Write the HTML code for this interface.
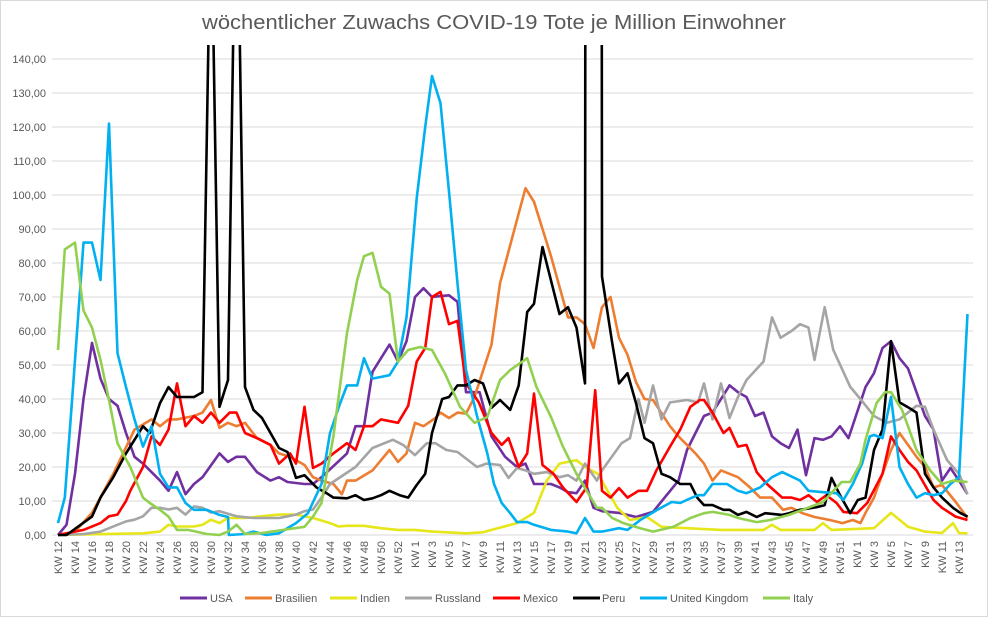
<!DOCTYPE html>
<html><head><meta charset="utf-8"><style>
html,body{margin:0;padding:0;background:#fff}
svg{display:block;font-family:"Liberation Sans",sans-serif}
</style></head><body>
<svg id="c" width="988" height="617" viewBox="0 0 988 617" xmlns="http://www.w3.org/2000/svg">
<rect x="0.5" y="0.5" width="987" height="616" fill="#fff" stroke="#d9d9d9"/>
<text x="494" y="29" text-anchor="middle" font-size="20" fill="#595959" textLength="584" lengthAdjust="spacingAndGlyphs">wöchentlicher Zuwachs COVID-19 Tote je Million Einwohner</text>
<defs><clipPath id="pc"><rect x="52" y="45" width="925" height="495"/></clipPath></defs>
<g id="grid"></g>
<g id="series" clip-path="url(#pc)" fill="none" stroke-width="2.6" stroke-linejoin="round"></g>
<g id="xl" font-size="11" fill="#595959"></g>
<g font-size="11" fill="#595959">
<line x1="180" y1="598" x2="207" y2="598" stroke="#7030A0" stroke-width="3"/><text x="210" y="602">USA</text>
<line x1="245" y1="598" x2="272" y2="598" stroke="#ED7D31" stroke-width="3"/><text x="275" y="602">Brasilien</text>
<line x1="330" y1="598" x2="357" y2="598" stroke="#E6E61A" stroke-width="3"/><text x="360" y="602">Indien</text>
<line x1="405" y1="598" x2="432" y2="598" stroke="#A5A5A5" stroke-width="3"/><text x="435" y="602">Russland</text>
<line x1="493" y1="598" x2="520" y2="598" stroke="#FF0000" stroke-width="3"/><text x="523" y="602">Mexico</text>
<line x1="573" y1="598" x2="600" y2="598" stroke="#000" stroke-width="3"/><text x="602" y="602">Peru</text>
<line x1="640" y1="598" x2="667" y2="598" stroke="#00B0F0" stroke-width="3"/><text x="670" y="602">United Kingdom</text>
<line x1="763" y1="598" x2="790" y2="598" stroke="#92D050" stroke-width="3"/><text x="793" y="602">Italy</text>
</g>
</svg>
<script>
var NS="http://www.w3.org/2000/svg";
function X(i){return 58+8.5*i}
function Y(v){return 535-3.4*v}
function el(t,a,p,txt){var e=document.createElementNS(NS,t);for(var k in a)e.setAttribute(k,a[k]);if(txt!==undefined)e.textContent=txt;p.appendChild(e);return e}
var g=document.getElementById("grid");
for(var k=0;k<=14;k++){var y=Y(k*10);
 el("line",{x1:52,x2:973,y1:y,y2:y,stroke:"#d9d9d9","stroke-width":1},g);
 el("text",{x:46,y:y+4,"text-anchor":"end","font-size":11,fill:"#595959"},g,(k*10)+",00");}
var xl=document.getElementById("xl");
function lab(i,t){var x=X(i)+4;el("text",{x:x,y:541,"text-anchor":"end",transform:"rotate(-90 "+x+" 541)"},xl,t)}
for(var w=12;w<=52;w+=2)lab(w-12,"KW "+w);
for(var w=1;w<=51;w+=2)lab(42+w-1,"KW "+w);
for(var w=1;w<=13;w+=2)lab(94+w-1,"KW "+w);
var S=[
["#7030A0",[[0,0],[1,3],[2,18],[3,40],[4,56.5],[5,46],[6,40],[7,38],[8,30],[9,23],[10,21],[12,16],[13,13],[14,18.5],[15,12],[16,15],[17,17],[19,24],[20,21.5],[21,23],[22,23],[23.4,18.5],[25,16],[26,17],[27,15.6],[29,15],[30,15],[31,17],[34,24],[35,32],[36,32],[37,48],[39,56],[40,51],[41,57],[42,70],[43,72.6],[44,70],[46,70.5],[47,68.6],[48,42],[49.6,42],[51,29],[52.6,23],[54,20],[55,21],[56,15],[58,15],[59,14],[60,12.6],[61,12.3],[62,16],[63,8],[64,7],[66,6.5],[68,5.3],[70,6.8],[73,16],[74,25],[76,35],[77,36],[79,44],[80,42],[81,40.6],[82,35],[83,36],[84,29],[85,27],[86,25.6],[87,31],[88,17.6],[89,28.5],[90,28],[91,29],[92,32],[93,28.5],[95,43.5],[96,47.6],[97,55],[98,57],[99,52],[100,49],[101,42],[102,35],[103,31],[104,16],[105,19.7],[106,16],[107,12]]],
["#ED7D31",[[0,0],[2,1],[4,6.5],[6.5,18],[9,31],[11,34],[12,32],[13,34],[14,34],[16,35],[17,36],[18,39.7],[19,31.5],[20,33],[21,32],[22,33],[23.4,28.5],[25,26.5],[26,24],[27.3,23],[29,20.6],[30,17],[31,16],[32.4,15],[33.4,12],[34,16],[35,16],[37,19],[39,25],[40,21.5],[41,24],[42,33],[43,32],[44.4,34.4],[45,36],[46,34.4],[47,36],[48,35.7],[49,40.6],[51,56],[52,74],[53.6,89],[55,102],[56,98],[58,82],[60,64],[61,64],[62,62],[63,55],[64,67],[65,70],[66,58],[67,53],[68,45],[69,40],[70,39.7],[72,32],[73,29],[75,24],[76,21],[77,16],[78,19],[80,17],[81.4,14],[82.6,11],[84,11],[85.3,7.4],[86.3,8],[87.6,6.4],[89,5.3],[90.8,4.4],[92.3,3.5],[93.5,4.4],[94.4,3.5],[95,6.5],[96,11],[97,18],[98,25],[99,30],[100,26.5],[101,23],[102,20],[103,14],[104,14.7],[105.7,9.4],[107,5]]],
["#E6E61A",[[0,0],[10,0.5],[12,1],[13,3],[14,2.5],[16,2.5],[17,3],[18,4.5],[19,3.5],[20,5],[22,5],[26,6],[28,6],[30,5],[32,3.5],[33,2.5],[34,2.7],[36,2.7],[38,2],[40,1.5],[42,1.5],[44,1],[48,0.5],[50,0.8],[51,1.5],[54,3.5],[56,6.5],[57.5,16],[59,21],[61,22],[62,20],[63.5,18],[65.8,8],[67.3,4.4],[69.3,5.3],[71,2.4],[74,2],[78,1.5],[83,1.5],[84,3],[85,1.5],[89,1.5],[90,3.5],[91,1.5],[96,2],[98,6.5],[100,2.4],[102,1],[104,0.6],[105.3,3.5],[106,0.6],[107,0.5]]],
["#A5A5A5",[[0,0],[3,0.3],[5,1],[7,3],[8,4],[9,4.5],[10,5.5],[11,8],[12,8],[13,7.5],[14,8],[15,6],[16,8.4],[17,8],[18,6.6],[19,7],[21,5.5],[23,5],[26,5],[27,5.5],[28,6],[29,7],[30,7.5],[31,11],[32,15],[35,20],[37,25.6],[39.4,28],[40.6,26.5],[42,23.5],[43.4,27],[44.4,27],[45.7,25],[47,24.4],[49.3,20],[50.4,21],[52,20.6],[53,16.8],[54,19.7],[55,19],[56,18],[57.5,18.5],[59,17],[60,17.6],[61,16],[62,21],[63.4,16],[64,19],[66.3,27],[67.3,28.5],[68.3,40],[69,33],[70,44],[71,34],[72,39],[74,39.7],[75.3,39],[76,44.6],[77,34],[78,44.6],[79,34.4],[80,40.6],[81,45.6],[83,51],[84,64],[85,58],[86.3,60],[87.3,62],[88.3,61],[89,51.5],[90.2,67],[91.2,54.5],[93.2,43.6],[94.4,40],[96,35],[97.5,33],[99,34],[101,38],[102,37.7],[103,31],[104.6,22],[106,18],[107,12]]],
["#FF0000",[[0,0],[3,1.5],[5,3.5],[6,5.5],[7,6],[8,10],[8.5,13],[10,20],[11,29],[12,26.5],[13,31],[14,44.6],[15,32],[16,35],[17,33],[18,36],[19,33],[20.2,36],[21,36],[22,30],[23.4,28.5],[25,26.5],[26,21],[27.3,24],[28,21],[29,37.7],[30,19.7],[31,21],[32.4,24],[34,27],[35,25],[36,32],[37,32],[38,34],[40,33],[41.2,38],[42.2,51],[43.2,55],[44,70],[45,71.5],[46,62],[47,63],[48,44.6],[49.5,39],[51,30],[52.2,26.5],[53,28.5],[54.2,20],[55.2,24],[56,41.6],[57,20.6],[58.3,18],[59.4,14],[61,9.7],[62.2,14],[63.2,42.6],[64,13],[65,11],[66,13.8],[67,11],[68.3,13],[69.3,13],[70.4,19],[72,26],[73.2,31],[74.4,37.7],[75.5,39.7],[76,39.7],[77,36],[78.3,30],[79,31.5],[80,26],[81,26.5],[82.2,18.5],[83.4,15],[85.2,11],[86.3,11],[87.3,10.3],[88.3,11.7],[89.3,9.7],[90.4,11.7],[91.6,9.4],[92.4,6.8],[94,6.4],[95.2,9.4],[97,18],[98,29],[99,25],[100,21.5],[101,19],[103,10.3],[104,8],[105.6,5.4],[107,4.4]]],
["#000000",[[0,0],[1,0],[4,5.4],[5,11],[6.5,17],[8,24],[10,32],[10.8,30],[12,38.8],[13,43.5],[14,40.6],[16,40.6],[17,42],[18,190],[19,37.7],[20,45.6],[21,210],[22,43.5],[23,36.8],[24,34.4],[26,25.6],[27,24.4],[28,16.8],[29,17.6],[30.4,14],[31.6,12.3],[32.4,11],[34,10.8],[35,11.7],[36,10.3],[37,10.8],[38,11.7],[39,13],[40.2,11.7],[41.2,11],[42.2,14.7],[43.2,18],[44,30],[45.2,40],[46,40.6],[47,44],[48,44],[49,45.6],[50,44.6],[51,37.4],[52,39.7],[53.2,36.8],[54.2,44],[55.2,65.6],[56,68],[57,84.7],[59,65],[60,67],[61,61],[62,44.6],[63,3000],[64,76],[65.2,56.5],[66,44.6],[67,47.6],[68,38.8],[69,28.5],[70,27],[71,18],[72,17],[73.2,15],[74.4,15],[75.2,11],[76,8.8],[77,8.8],[78.3,7.4],[79,7.4],[80,5.9],[81,6.8],[82.2,5.3],[83.2,6.4],[85.2,5.9],[86,6.4],[87.3,7.4],[89.3,8.2],[90.2,8.8],[91,16.8],[92,11.7],[93.2,6.4],[94.1,10.3],[95,11],[96,25],[97,31],[98,57],[99,39],[100,37.6],[101,36],[102,18],[103,14],[104,11],[105.3,8],[106.2,6.4],[107,5.4]]],
["#00B0F0",[[0,3.5],[0.8,11],[1.8,44.6],[3,86],[4,86],[5,75],[6,121],[7,53.5],[8,43.5],[9,34],[10,26],[11,32],[12,18],[13,14],[14,14],[15,9.4],[16,7.4],[17.5,7.4],[19,5.9],[20,5.3],[20.1,0],[22,0.3],[23,1],[24.5,0],[26,0.5],[28,3.5],[29.4,6.4],[31,15],[32,30],[33.2,38.8],[34,44],[35.2,44],[36,52],[37,46],[39,47],[40,51],[41,64],[42.2,99],[43.2,120],[44,135],[45,127],[46,101],[47,74],[48,48.5],[49.3,35],[50.5,24],[51.3,15],[52.2,9.4],[53.2,6.4],[54,3.8],[55.2,3.8],[56,3],[58,1.5],[60,1],[61,0.5],[62,5],[63,1],[64,1],[66,2],[67,1.5],[68.5,4.4],[70.5,7.4],[72.2,9.7],[73.2,9.4],[74.4,10.8],[75.3,11.7],[76,11.7],[77,15],[78.7,15],[80,13],[81,12.3],[82.6,14],[84,17],[85.2,18.5],[87.3,16],[88.3,13],[90,12.6],[91.6,12.3],[92.4,10.3],[93.5,15],[94.6,21],[95.5,29],[96,29.4],[97,28.5],[98,40.6],[99,20],[100,15],[101,11],[102,12.3],[103,11.7],[104,12.3],[105,15],[106,17],[107,65]]],
["#92D050",[[0,54.4],[0.8,84],[2,86],[3,66],[4,61],[5,51.5],[6,39.7],[7,27],[8.5,20],[10,11],[10.8,9.4],[12,7.4],[13,5.4],[14,1.5],[15.3,1.5],[17.5,0.3],[19,0],[20,1],[21,3],[22,0.3],[24,0.6],[26.5,1.5],[29,2.4],[30,5.4],[31,9.4],[32.4,29],[34,59.4],[35.2,75],[36,82],[37,83],[38,73],[39,71],[40,51],[41.2,54.4],[42.6,55.3],[44,54.4],[45.5,47.6],[47.3,37.7],[49,33],[50.5,34.7],[52,45.6],[53.2,48.5],[55.2,52],[56.3,43.5],[58,34.7],[59.4,26],[61,18],[62.2,13],[63.4,8],[64,8],[65.2,5],[66.5,3.5],[68.5,2],[70,1],[72.4,2.4],[74.4,5],[76,6.4],[77,6.8],[79,5.9],[80,5],[82.2,3.8],[83.8,4.4],[86,5.9],[87.6,7.4],[90,9.7],[92.2,15.6],[93.2,15.6],[94.4,21],[95,28],[96.3,38.8],[97.3,42],[98,42],[99.3,36.8],[100,32],[101,25],[102.6,19],[104,15],[105.3,16],[107,15.6]]]
];
var sg=document.getElementById("series");
S.forEach(function(s){
 var pts=s[1].map(function(p){return X(p[0]).toFixed(1)+","+Y(p[1]).toFixed(1)}).join(" ");
 el("polyline",{points:pts,stroke:s[0]},sg);
});
</script>
</body></html>
